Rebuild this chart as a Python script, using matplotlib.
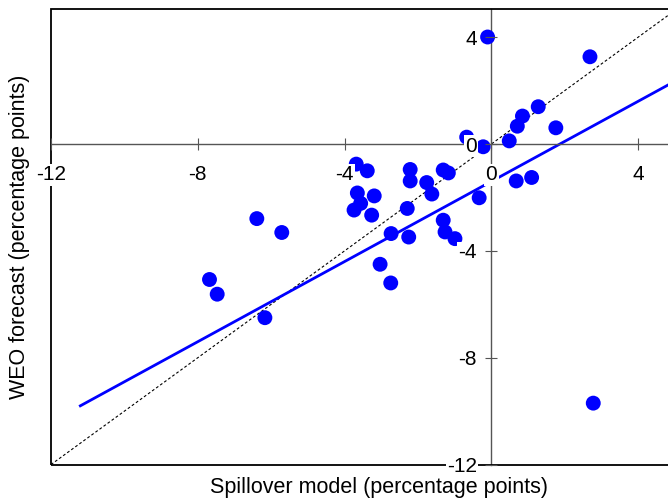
"""
plot.py
-------
Spillover model vs WEO forecast scatter, with fitted line and 45-degree line.
"""

import matplotlib
matplotlib.use("Agg")
import matplotlib.pyplot as plt
from matplotlib.patches import Rectangle

plt.rcParams["font.family"] = ["Liberation Sans", "DejaVu Sans"]

# Spillover model (x) and WEO forecast (y), percentage points
spillover = [
    -0.10, 2.69, 1.28, 0.85, 0.71, 1.76, 0.49, -0.22, -0.67, 0.68,
    1.10, -0.33, -1.31, -1.17, -2.21, -2.21, -1.76, -1.62, -3.68, -3.38,
    -3.65, -3.19, -3.56, -3.74, -3.26, -2.29, -1.31, -1.26, -0.99, -2.73,
    -2.25, -3.03, -2.74, -6.39, -5.71, -7.68, -7.47, -6.17, 2.78,
]
weo_forecast = [
    4.01, 3.27, 1.40, 1.05, 0.67, 0.61, 0.12, -0.10, 0.26, -1.38,
    -1.25, -2.01, -0.97, -1.08, -0.95, -1.38, -1.44, -1.87, -0.75, -1.00,
    -1.83, -1.94, -2.22, -2.47, -2.66, -2.41, -2.85, -3.29, -3.54, -3.35,
    -3.48, -4.50, -5.20, -2.79, -3.31, -5.07, -5.62, -6.50, -9.70,
]

# fitted regression line, end points
fit_x = [-11.2, 5.88]
fit_y = [-9.80, 3.01]

# 45-degree reference line
diag = [-12, 5.88]

x_ticks = [-12, -8, -4, 0, 4]
y_ticks = [-12, -8, -4, 0, 4]
x_lim = (-12, 5.88)
y_lim = (-12, 5.05)


def main():
    fig = plt.figure(figsize=(6.68, 4.99), dpi=100)
    ax = fig.add_axes([51 / 668, 0.069, 656 / 668, 0.9125])

    ax.plot(diag, diag, color="black", lw=0.8, linestyle=(0, (2.5, 2)), zorder=2)
    ax.plot(fit_x, fit_y, color="#0000ff", lw=2.0, zorder=2.2)
    ax.scatter(spillover, weo_forecast, s=115, color="#0000ff", edgecolors="none", zorder=3)

    ax.set_xlim(*x_lim)
    ax.set_ylim(*y_lim)

    # axes crossing at the origin
    for side in ("left", "bottom"):
        ax.spines[side].set_position(("data", 0))
        ax.spines[side].set_color("#555555")
        ax.spines[side].set_linewidth(1.0)
        ax.spines[side].set_zorder(2.5)
    ax.spines["right"].set_visible(False)
    ax.spines["top"].set_visible(False)

    # outer frame
    ax.add_patch(Rectangle((0, 0), 1, 1, transform=ax.transAxes, fill=False,
                           edgecolor="black", lw=1.3, zorder=2.6, clip_on=False))

    ax.set_xticks(x_ticks)
    ax.set_yticks(y_ticks)
    ax.set_xticklabels([str(v) for v in x_ticks])
    ax.set_yticklabels([str(v) for v in y_ticks])
    ax.tick_params(axis="both", direction="inout", length=8.5, width=0.8,
                   color="#555555", labelsize=15)
    ax.tick_params(axis="x", pad=11)
    ax.tick_params(axis="y", pad=6)
    for lbl in ax.get_xticklabels() + ax.get_yticklabels():
        lbl.set_bbox(dict(facecolor="white", edgecolor="none", pad=1.0))
    ax.xaxis.set_zorder(5)
    ax.yaxis.set_zorder(5)

    fig.text(379 / 668, 1 - 487 / 499, "Spillover model (percentage points)",
             ha="center", va="center", fontsize=15.5)
    fig.text(20 / 668, 1 - 237 / 499, "WEO forecast (percentage points)",
             ha="center", va="center", rotation=90, fontsize=15.5)

    fig.savefig("out.png", dpi=100)
    plt.close(fig)


if __name__ == "__main__":
    main()
